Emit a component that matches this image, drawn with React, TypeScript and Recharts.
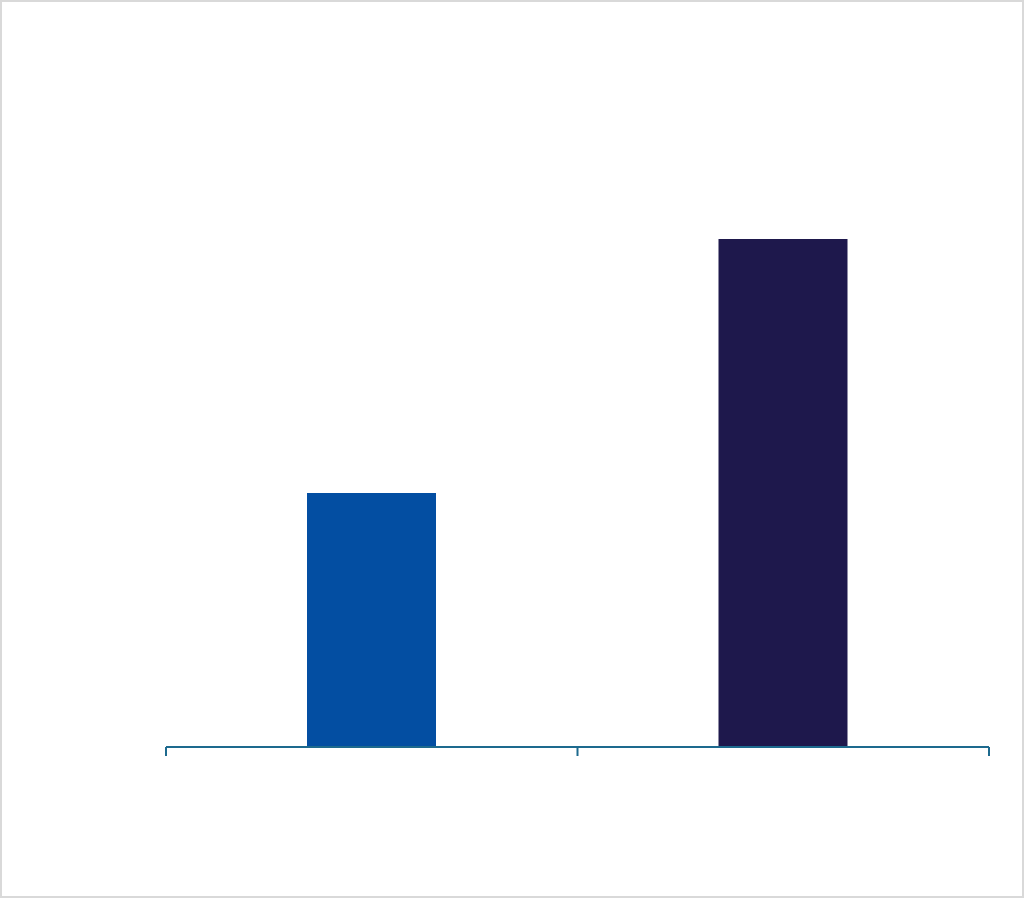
import { BarChart, Bar, XAxis, YAxis, Cell } from "recharts";

// two categories, no labels shown on the original
const categories = ["A", "B"];
const positions = [0.5, 1.5];
const values = [1.0, 2.0];
const barColors = ["#034ea2", "#1e184c"];
const edgeTicks = [0, 1, 2];

const data = categories.map((name, i) => ({
  name,
  x: positions[i],
  value: values[i],
}));

export default function App() {
  return (
    <div
      style={{
        position: "absolute",
        top: 0,
        left: 0,
        width: 1024,
        height: 898,
        boxSizing: "border-box",
        border: "2px solid #d9d9d9",
        background: "#fff",
      }}
    >
      <div style={{ position: "absolute", top: -2, left: -2 }}>
        <BarChart
          width={1024}
          height={898}
          data={data}
          margin={{ top: 112, right: 35, bottom: 121, left: 166 }}
        >
          <XAxis
            dataKey="x"
            type="number"
            domain={[0, 2]}
            ticks={edgeTicks}
            height={30}
            stroke="#1d6a8e"
            strokeWidth={2}
            tickSize={9}
            tickFormatter={() => ""}
          />
          <YAxis hide domain={[0, 2.5]} />
          <Bar dataKey="value" barSize={129} isAnimationActive={false}>
            {data.map((d, i) => (
              <Cell key={d.name} fill={barColors[i]} />
            ))}
          </Bar>
        </BarChart>
      </div>
    </div>
  );
}
